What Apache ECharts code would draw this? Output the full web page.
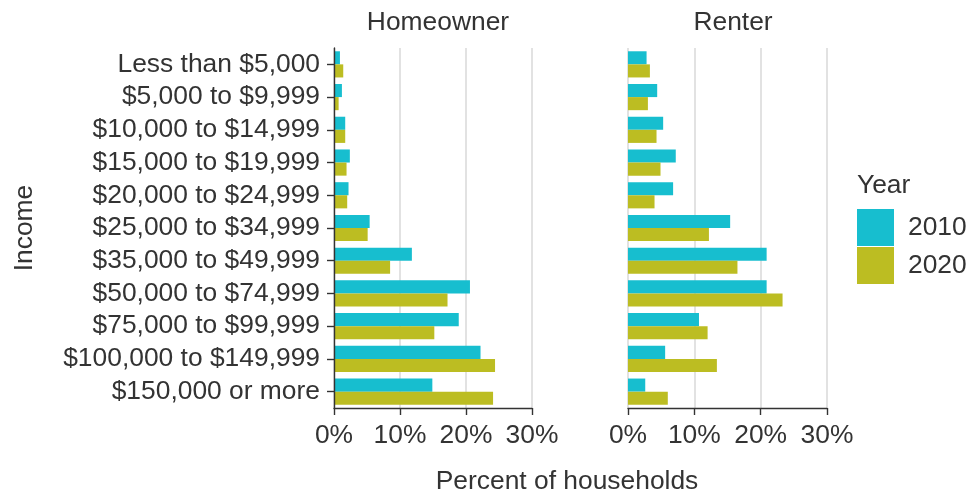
<!DOCTYPE html>
<html>
<head>
<meta charset="utf-8">
<script src="https://cdn.jsdelivr.net/npm/echarts@6/dist/echarts.min.js"></script>
<style>html,body{margin:0;padding:0;background:#fff}#c{width:969px;height:493px}</style>
</head>
<body>
<div id="c"></div>
<script>
const categories = ["Less than $5,000","$5,000 to $9,999","$10,000 to $14,999","$15,000 to $19,999","$20,000 to $24,999","$25,000 to $34,999","$35,000 to $49,999","$50,000 to $74,999","$75,000 to $99,999","$100,000 to $149,999","$150,000 or more"];
const homeowner2010 = [0.9, 1.2, 1.7, 2.4, 2.2, 5.4, 11.8, 20.6, 18.9, 22.2, 14.9];
const homeowner2020 = [1.4, 0.7, 1.7, 1.9, 2.0, 5.1, 8.5, 17.2, 15.2, 24.4, 24.1];
const renter2010 = [2.8, 4.4, 5.3, 7.2, 6.8, 15.4, 20.9, 20.9, 10.7, 5.6, 2.6];
const renter2020 = [3.3, 3.0, 4.3, 4.9, 4.0, 12.2, 16.5, 23.3, 12.0, 13.4, 6.0];
const panels = ["Homeowner", "Renter"];
const years = ["2010", "2020"];
const xTicks = [0, 10, 20, 30];

const FONT = "'Liberation Sans', Arial, sans-serif";
const FS = 26.4;
const TXT = "#333333";
const C2010 = "#17becf", C2020 = "#bcbd22";

const chart = echarts.init(document.getElementById('c'), null, {renderer: 'canvas'});
const grids = [
  {left: 334, width: 198, top: 48, height: 360},
  {left: 628, width: 199, top: 48, height: 360}
];
function xAxis(i) {
  return {
    type: 'value', gridIndex: i, min: xTicks[0], max: xTicks[xTicks.length - 1], interval: 10,
    axisLine: {show: true, lineStyle: {color: '#333', width: 1.4}},
    axisTick: {show: true, length: 7, lineStyle: {color: '#333', width: 1.4}},
    axisLabel: {formatter: v => v + '%', fontSize: FS, color: TXT, fontFamily: FONT, margin: 15},
    splitLine: {show: true, lineStyle: {color: '#d9d9d9', width: 1.5}}
  };
}
const option = {
  animation: false,
  textStyle: {fontFamily: FONT},
  grid: grids,
  title: [
    {text: panels[0], left: 433, top: 5, textAlign: 'center', textStyle: {fontSize: FS, fontWeight: 'normal', color: TXT, fontFamily: FONT}},
    {text: panels[1], left: 728, top: 5, textAlign: 'center', textStyle: {fontSize: FS, fontWeight: 'normal', color: TXT, fontFamily: FONT}},
    {text: 'Year', left: 852, top: 168, textStyle: {fontSize: FS, fontWeight: 'normal', color: TXT, fontFamily: FONT}},
    {text: 'Percent of households', left: 562, top: 464, textAlign: 'center', textStyle: {fontSize: FS, fontWeight: 'normal', color: TXT, fontFamily: FONT}}
  ],
  legend: {
    data: years, orient: 'vertical', left: 857, top: 209, padding: 0,
    itemWidth: 37, itemHeight: 37, itemGap: 1, icon: 'rect',
    textStyle: {fontSize: FS, color: TXT, fontFamily: FONT, padding: [0, 0, 0, 9]}
  },
  xAxis: [xAxis(0), xAxis(1)],
  yAxis: [
    {type: 'category', gridIndex: 0, data: categories, inverse: true, z: 5,
     name: 'Income', nameLocation: 'middle', nameGap: 296,
     nameTextStyle: {fontSize: FS, color: TXT, fontFamily: FONT},
     axisLine: {show: true, lineStyle: {color: '#333', width: 1.4}},
     axisTick: {show: true, length: 7, alignWithLabel: true, interval: 0, lineStyle: {color: '#333', width: 1.4}},
     axisLabel: {fontSize: FS, color: TXT, fontFamily: FONT, margin: 14, interval: 0},
     splitLine: {show: false}},
    {type: 'category', gridIndex: 1, data: categories, inverse: true,
     axisLine: {show: false}, axisTick: {show: false}, axisLabel: {show: false}, splitLine: {show: false}}
  ],
  series: [
    {name: years[0], type: 'bar', xAxisIndex: 0, yAxisIndex: 0, data: homeowner2010, barWidth: '40%', barGap: '0%', itemStyle: {color: C2010}},
    {name: years[1], type: 'bar', xAxisIndex: 0, yAxisIndex: 0, data: homeowner2020, barWidth: '40%', barGap: '0%', itemStyle: {color: C2020}},
    {name: years[0], type: 'bar', xAxisIndex: 1, yAxisIndex: 1, data: renter2010, barWidth: '40%', barGap: '0%', itemStyle: {color: C2010}},
    {name: years[1], type: 'bar', xAxisIndex: 1, yAxisIndex: 1, data: renter2020, barWidth: '40%', barGap: '0%', itemStyle: {color: C2020}}
  ]
};
chart.setOption(option);
</script>
</body>
</html>
